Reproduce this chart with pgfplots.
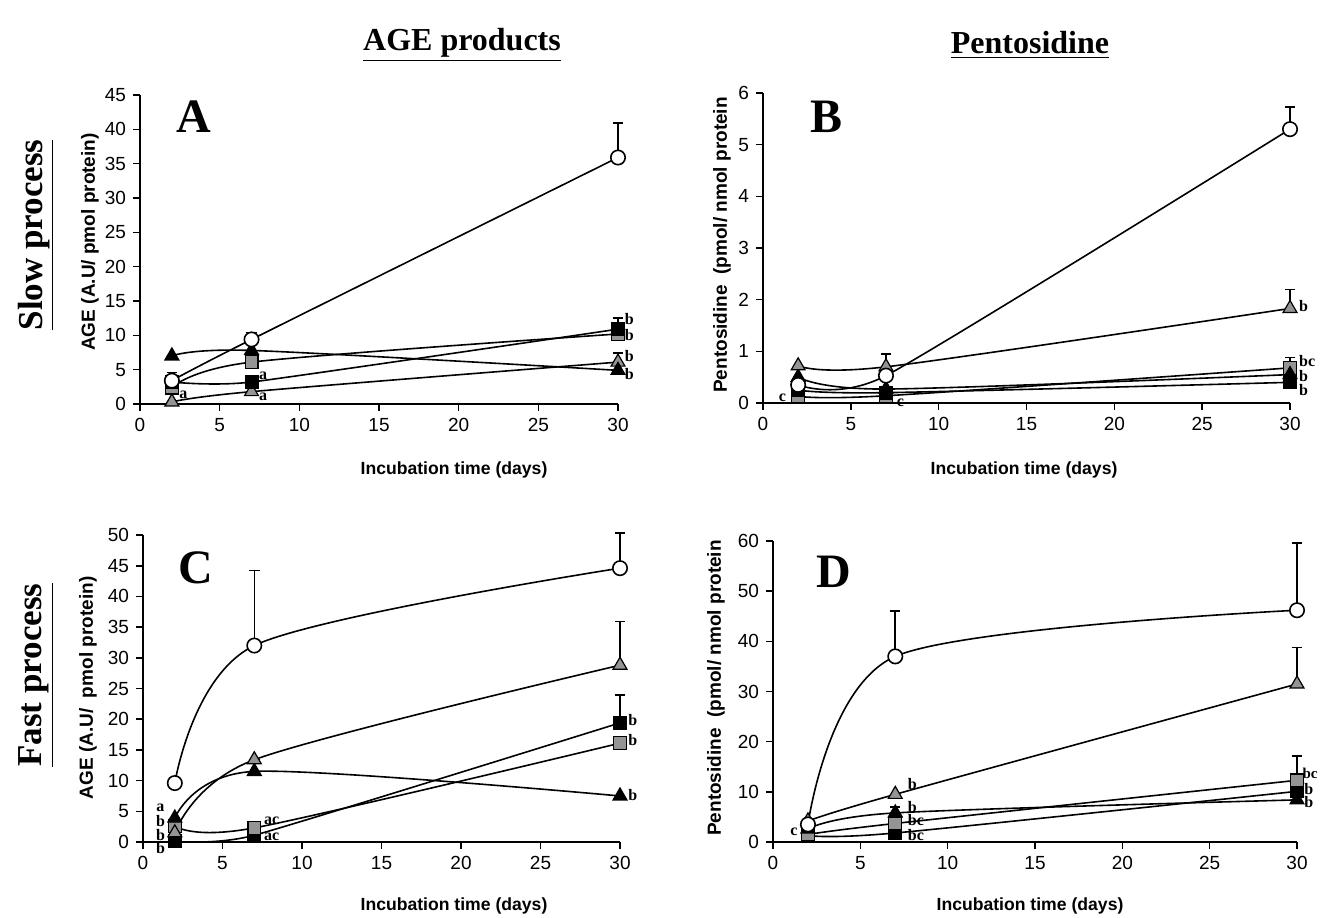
\documentclass[border=0pt]{standalone}
\usepackage{fontspec}
\setmainfont{Liberation Serif}
\setsansfont{Liberation Sans}
\usepackage{pgfplots}
\pgfplotsset{compat=1.18}
\definecolor{mgray}{gray}{0.58}
\pgfplotsset{
 panel/.style={
   scale only axis, axis lines*=left, axis line style={-, line width=0.8pt},
   xmin=0, xmax=30, xtick={0,5,...,30}, ymin=0,
   tick align=outside, major tick length=3.5pt, tick style={black, line width=0.8pt},
   clip=false,
   ticklabel style={font=\sffamily\fontsize{9.5}{11}\selectfont},
   /pgf/number format/assume math mode=true,
   every axis plot/.append style={line width=0.8pt, black, smooth},
   error bars/y dir=plus, error bars/y explicit,
   error bars/error mark=-,
   error bars/error bar style={line width=0.8pt, black},
   error bars/error mark options={rotate=90, mark size=2.6pt, line width=0.8pt, black},
 },
 ocirc/.style={mark=*, mark options={fill=white, draw=black, line width=0.8pt}, mark size=3.6pt},
 btri/.style={mark=triangle*, mark options={fill=black, draw=black, line width=0.6pt}, mark size=4pt},
 gtri/.style={mark=triangle*, mark options={fill=mgray, draw=black, line width=0.6pt}, mark size=4pt},
 bsq/.style={mark=square*, mark options={fill=black, draw=black, line width=0.6pt}, mark size=3.2pt},
 gsq/.style={mark=square*, mark options={fill=mgray, draw=black, line width=0.6pt}, mark size=3.2pt},
}
\newcommand{\lab}[3]{\node[font=\bfseries\fontsize{8}{8}\selectfont, inner sep=0pt, anchor=west] at (axis cs:#1,#2) {#3};}
\newcommand{\labc}[3]{\node[font=\bfseries\fontsize{8}{8}\selectfont, inner sep=0pt] at (axis cs:#1,#2) {#3};}
\newcommand{\plet}[3]{\node[font=\bfseries\fontsize{24}{24}\selectfont] at (axis cs:#1,#2) {#3};}
\begin{document}
\begin{tikzpicture}
\useasboundingbox (0,0) rectangle (660pt,458.5pt);
% ---------------- A ----------------
\begin{axis}[panel, at={(70pt,256.5pt)}, anchor=south west, width=239pt, height=154.5pt,
  ymax=45, ytick={0,5,...,45}]
\addplot[gtri] coordinates {(2,0.3) +- (0,0) (7,1.8) +- (0,0) (30,6.1) +- (0,1.3)};
\addplot[gsq] coordinates {(2,2.4) +- (0,0) (7,6.1) +- (0,0) (30,10.2) +- (0,0)};
\addplot[bsq, tension=0.3] coordinates {(2,3.2) +- (0,1.4) (7,3.2) +- (0,0) (30,10.9) +- (0,1.6)};
\addplot[btri] coordinates {(2,7.0) +- (0,0) (7,7.8) +- (0,0) (30,4.9) +- (0,0)};
\addplot[ocirc] coordinates {(2,3.4) +- (0,0) (7,9.4) +- (0,1.0) (30,35.9) +- (0,5.0)};
\lab{2.45}{1.3}{a}
\lab{7.45}{4.1}{a}
\lab{7.45}{1.0}{a}
\lab{30.4}{12.4}{b}
\lab{30.4}{10.0}{b}
\lab{30.4}{7.0}{b}
\lab{30.4}{4.4}{b}
\plet{3.35}{41.9}{A}
\end{axis}
% ---------------- B ----------------
\begin{axis}[panel, at={(381.5pt,257pt)}, anchor=south west, width=263.5pt, height=155pt,
  ymax=6, ytick={0,1,...,6}]
\addplot[gsq] coordinates {(2,0.13) +- (0,0) (7,0.14) +- (0,0) (30,0.68) +- (0,0.2)};
\addplot[bsq] coordinates {(2,0.25) +- (0,0) (7,0.2) +- (0,0) (30,0.4) +- (0,0)};
\addplot[btri] coordinates {(2,0.5) +- (0,0) (7,0.27) +- (0,0) (30,0.55) +- (0,0)};
\addplot[gtri] coordinates {(2,0.72) +- (0,0) (7,0.70) +- (0,0) (30,1.83) +- (0,0.37)};
\addplot[ocirc, tension=0.35] coordinates {(2,0.35) +- (0,0) (7,0.53) +- (0,0.42) (30,5.3) +- (0,0.43)};
\labc{1.1}{0.1}{c}
\lab{7.6}{0.0}{c}
\lab{30.5}{1.88}{b}
\lab{30.5}{0.81}{bc}
\lab{30.5}{0.52}{b}
\lab{30.5}{0.25}{b}
\plet{3.6}{5.53}{B}
\end{axis}
% ---------------- C ----------------
\begin{axis}[panel, at={(71.5pt,37.5pt)}, anchor=south west, width=238.5pt, height=153.5pt,
  ymax=50, ytick={0,5,...,50}]
\addplot[bsq, tension=0.3] coordinates {(2,0.1) +- (0,0) (7,1.1) +- (0,0) (30,19.4) +- (0,4.5)};
\addplot[gsq] coordinates {(2,2.6) +- (0,0) (7,2.3) +- (0,0) (30,16.1) +- (0,0)};
\addplot[btri] coordinates {(2,3.9) +- (0,0) (7,11.5) +- (0,0) (30,7.5) +- (0,0)};
\addplot[gtri] coordinates {(2,1.5) +- (0,0) (7,13.4) +- (0,0) (30,28.8) +- (0,7.1)};
\addplot[ocirc] coordinates {(2,9.6) +- (0,0.8) (7,32) +- (0,12.2) (30,44.6) +- (0,5.7)};
\labc{1.1}{5.6}{a}
\labc{1.1}{3.4}{b}
\labc{1.1}{1.2}{b}
\labc{1.1}{-1.0}{b}
\lab{7.6}{3.5}{ac}
\lab{7.6}{0.8}{ac}
\lab{30.5}{19.9}{b}
\lab{30.5}{16.6}{b}
\lab{30.5}{7.6}{b}
\plet{3.3}{44.7}{C}
\end{axis}
% ---------------- D ----------------
\begin{axis}[panel, at={(386.5pt,37.5pt)}, anchor=south west, width=262pt, height=150.5pt,
  ymax=60, ytick={0,10,...,60}]
\addplot[bsq] coordinates {(2,1.3) +- (0,0) (7,1.8) +- (0,0) (30,10.1) +- (0,0)};
\addplot[gsq] coordinates {(2,1.5) +- (0,0) (7,3.7) +- (0,0) (30,12.3) +- (0,4.9)};
\addplot[btri] coordinates {(2,2.6) +- (0,0) (7,5.8) +- (0,1.2) (30,8.4) +- (0,0)};
\addplot[gtri] coordinates {(2,4.2) +- (0,0) (7,9.5) +- (0,0) (30,31.5) +- (0,7.3)};
\addplot[ocirc] coordinates {(2,3.5) +- (0,0) (7,37.0) +- (0,9.0) (30,46.2) +- (0,13.4)};
\labc{1.2}{2.1}{c}
\lab{7.7}{11.6}{b}
\lab{7.7}{7.0}{b}
\lab{7.7}{4.4}{bc}
\lab{7.7}{1.4}{bc}
\node[font=\bfseries\fontsize{7.5}{7.5}\selectfont, inner sep=0pt, anchor=west] at (axis cs:30.3,13.6) {bc};
\lab{30.4}{10.6}{b}
\lab{30.4}{8.0}{b}
\plet{3.5}{53.8}{D}
\end{axis}
% ---------------- texts ----------------
\node[font=\bfseries\fontsize{16}{16}\selectfont] at (231pt,436pt) {\underline{AGE products}};
\node[font=\bfseries\fontsize{16}{16}\selectfont] at (515pt,436pt) {\underline{Pentosidine}};
\node[rotate=90, font=\bfseries\fontsize{17.5}{17.5}\selectfont] at (18pt,341pt) {\underline{Slow process}};
\node[rotate=90, font=\bfseries\fontsize{17.5}{17.5}\selectfont] at (18pt,121pt) {\underline{Fast process}};
\node[rotate=90, font=\sffamily\bfseries\fontsize{9.5}{9.5}\selectfont] at (45pt,337.5pt) {AGE (A.U/ pmol protein)};
\node[rotate=90, font=\sffamily\bfseries\fontsize{9.5}{9.5}\selectfont] at (361pt,336pt) {Pentosidine\ \ (pmol/ nmol protein};
\node[rotate=90, font=\sffamily\bfseries\fontsize{9.5}{9.5}\selectfont] at (44pt,114.5pt) {AGE (A.U/\ \ pmol protein)};
\node[rotate=90, font=\sffamily\bfseries\fontsize{9.5}{9.5}\selectfont] at (358pt,114.5pt) {Pentosidine\ \ (pmol/ nmol protein};
\node[font=\sffamily\bfseries\fontsize{8.8}{8.8}\selectfont] at (227pt,223.5pt) {Incubation time (days)};
\node[font=\sffamily\bfseries\fontsize{8.8}{8.8}\selectfont] at (512pt,223.5pt) {Incubation time (days)};
\node[font=\sffamily\bfseries\fontsize{8.8}{8.8}\selectfont] at (227pt,5.5pt) {Incubation time (days)};
\node[font=\sffamily\bfseries\fontsize{8.8}{8.8}\selectfont] at (515pt,5.5pt) {Incubation time (days)};
\end{tikzpicture}
\end{document}
